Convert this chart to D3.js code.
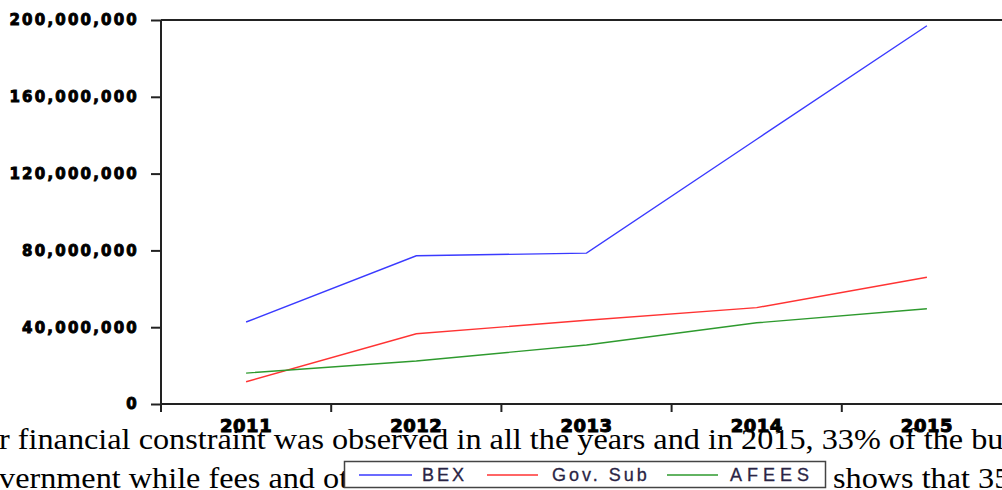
<!DOCTYPE html>
<html>
<head>
<meta charset="utf-8">
<script src="https://cdn.jsdelivr.net/npm/d3@7/dist/d3.min.js"></script>
<style>
  html, body { margin: 0; padding: 0; background: #fff; }
  svg { display: block; }
</style>
</head>
<body>
<svg id="chart" width="1002" height="490"></svg>
<script>
// ---- data ----
const years = ["2011", "2012", "2013", "2014", "2015"];
const bex = [42.7e6, 77.2e6, 78.6e6, 137.9e6, 197e6];
const govSub = [11.6e6, 36.6e6, 43.6e6, 50.2e6, 66.0e6];
const afees = [16.1e6, 22.4e6, 30.7e6, 42.3e6, 49.6e6];
const yTicks = [0, 40e6, 80e6, 120e6, 160e6, 200e6];
const seriesNames = ["BEX", "Gov. Sub", "AFEES"];
const bodyLine1 = "r financial constraint was observed in all the years and in 2015, 33% of the bu";
const bodyLine2a = "vernment while fees and other income amounted to 29%. This";
const bodyLine2b = "shows that 35";

// ---- layout ----
const svg = d3.select("#chart");
const plotLeft = 161, plotRight = 1012, plotTop = 20, plotBottom = 404;
const x = d3.scaleBand().domain(years).range([plotLeft, plotRight]);
const y = d3.scaleLinear().domain([0, 200e6]).range([plotBottom, plotTop]);
const colors = ["#3a3aff", "#ff3333", "#2e9a2e"];
const axisColor = "#222";

// body text of the underlying page (horizontally stretched serif)
const sx = 1.112;
const body = svg.append("g")
  .attr("transform", `scale(${sx},1)`)
  .attr("font-family", "'Liberation Serif', 'Times New Roman', serif")
  .attr("font-size", 29)
  .attr("fill", "#000");
body.append("text").attr("x", -1 / sx).attr("y", 449).text(bodyLine1);
body.append("text").attr("x", -1 / sx).attr("y", 488).text(bodyLine2a);
body.append("text").attr("x", 833 / sx).attr("y", 488).text(bodyLine2b);

// top frame line
svg.append("line")
  .attr("x1", plotLeft).attr("x2", 1002)
  .attr("y1", y(200e6)).attr("y2", y(200e6))
  .attr("stroke", axisColor).attr("stroke-width", 2);

// y axis
const yAxis = svg.append("g")
  .attr("transform", `translate(${plotLeft},0)`)
  .call(d3.axisLeft(y).tickValues(yTicks).tickSize(10).tickPadding(12)
    .tickFormat(d3.format(",")));
yAxis.select(".domain").remove();
yAxis.selectAll(".tick line").attr("stroke", axisColor).attr("stroke-width", 2);
yAxis.selectAll("text")
  .attr("font-family", "'DejaVu Sans', sans-serif")
  .attr("font-weight", "bold")
  .attr("font-size", 15)
  .attr("letter-spacing", "2.2px")
  .attr("fill", "#000")
  .attr("stroke", "#000").attr("stroke-width", 0.9);

svg.append("line")
  .attr("x1", plotLeft).attr("x2", plotLeft)
  .attr("y1", y(200e6)).attr("y2", plotBottom + 8)
  .attr("stroke", axisColor).attr("stroke-width", 2);

// x axis
svg.append("line")
  .attr("x1", plotLeft).attr("x2", 1002)
  .attr("y1", plotBottom).attr("y2", plotBottom)
  .attr("stroke", axisColor).attr("stroke-width", 2);
svg.append("g").selectAll("line")
  .data(years.slice(1))
  .join("line")
  .attr("x1", d => x(d)).attr("x2", d => x(d))
  .attr("y1", plotBottom).attr("y2", plotBottom + 8)
  .attr("stroke", axisColor).attr("stroke-width", 2);

// series lines
const line = d3.line()
  .x((d, i) => x(years[i]) + x.bandwidth() / 2)
  .y(d => y(d));
[bex, govSub, afees].forEach((s, k) => {
  svg.append("path")
    .datum(s)
    .attr("d", line)
    .attr("fill", "none")
    .attr("stroke", colors[k])
    .attr("stroke-width", 1.4);
});

// year labels
const xAxis = svg.append("g")
  .attr("transform", `translate(0,${plotBottom})`)
  .call(d3.axisBottom(x).tickSize(0).tickPadding(15));
xAxis.select(".domain").remove();
xAxis.selectAll("text")
  .attr("font-family", "'DejaVu Sans', sans-serif")
  .attr("font-weight", "bold")
  .attr("font-size", 18)
  .attr("letter-spacing", "0.5px")
  .attr("fill", "#000")
  .attr("stroke", "#000").attr("stroke-width", 1);

// legend
const lg = svg.append("g");
lg.append("rect")
  .attr("x", 344.5).attr("y", 461.5).attr("width", 481).attr("height", 26)
  .attr("fill", "#fff").attr("stroke", "#444").attr("stroke-width", 1.5);
const legendItems = [
  { x1: 359, x2: 412, tx: 422, ls: 3 },
  { x1: 487, x2: 538, tx: 552, ls: 3 },
  { x1: 667, x2: 718, tx: 730, ls: 5 }
];
legendItems.forEach((it, k) => {
  lg.append("line")
    .attr("x1", it.x1).attr("x2", it.x2)
    .attr("y1", 475).attr("y2", 475)
    .attr("stroke", colors[k]).attr("stroke-width", 1.4);
  lg.append("text")
    .attr("x", it.tx).attr("y", 481)
    .attr("font-family", "'Liberation Sans', Arial, sans-serif")
    .attr("font-size", 18)
    .attr("letter-spacing", `${it.ls}px`)
    .attr("fill", "#2a2545")
    .attr("stroke", "#2a2545").attr("stroke-width", 0.3)
    .text(seriesNames[k]);
});
</script>
</body>
</html>
